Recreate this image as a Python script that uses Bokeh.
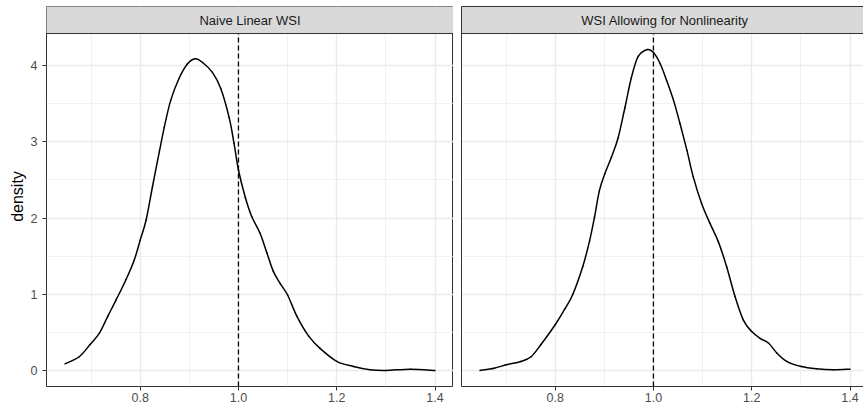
from bokeh.core.properties import value
from bokeh.embed import file_html
from bokeh.layouts import row
from bokeh.models import FixedTicker, LinearAxis, PrintfTickFormatter, Range1d, Title
from bokeh.plotting import figure
from bokeh.resources import INLINE

# ---- data -------------------------------------------------------------
panel_titles = ["Naive Linear WSI", "WSI Allowing for Nonlinearity"]

naive_x = [0.647, 0.676, 0.698, 0.717, 0.734, 0.751, 0.771, 0.788, 0.800, 0.812,
           0.825, 0.839, 0.849, 0.862, 0.879, 0.896, 0.912, 0.927, 0.947, 0.964,
           0.981, 0.991, 1.000, 1.014, 1.027, 1.044, 1.058, 1.071, 1.085, 1.100,
           1.119, 1.143, 1.166, 1.200, 1.234, 1.268, 1.300, 1.350, 1.400]
naive_y = [0.087, 0.18, 0.34, 0.49, 0.71, 0.925, 1.19, 1.45, 1.71, 1.97,
           2.41, 2.87, 3.19, 3.54, 3.83, 4.02, 4.09, 4.04, 3.91, 3.70,
           3.32, 2.98, 2.63, 2.27, 2.02, 1.80, 1.54, 1.30, 1.14, 0.99,
           0.71, 0.45, 0.29, 0.12, 0.052, 0.009, 0.0, 0.017, 0.0]

nonlin_x = [0.647, 0.676, 0.700, 0.730, 0.751, 0.771, 0.800, 0.820, 0.836, 0.856,
            0.870, 0.880, 0.890, 0.901, 0.914, 0.928, 0.942, 0.955, 0.969, 0.988,
            1.000, 1.014, 1.027, 1.041, 1.054, 1.068, 1.081, 1.098, 1.115, 1.132,
            1.149, 1.166, 1.183, 1.200, 1.217, 1.234, 1.251, 1.271, 1.301, 1.332,
            1.366, 1.400]
nonlin_y = [0.0, 0.03, 0.074, 0.118, 0.18, 0.34, 0.60, 0.81, 1.00, 1.36,
            1.70, 2.01, 2.36, 2.58, 2.79, 3.05, 3.45, 3.84, 4.12, 4.21,
            4.17, 4.02, 3.80, 3.54, 3.24, 2.89, 2.54, 2.19, 1.93, 1.69,
            1.36, 0.97, 0.66, 0.51, 0.42, 0.36, 0.23, 0.12, 0.052, 0.022,
            0.009, 0.017]

reference_wsi = 1.0

x_ticks = [0.8, 1.0, 1.2, 1.4]
x_minor = [0.7, 0.9, 1.1, 1.3]
y_ticks = [0, 1, 2, 3, 4]
y_minor = [0.5, 1.5, 2.5, 3.5]
y_title = "density"

# ---- style ------------------------------------------------------------
FONT = "Liberation Sans"
BORDER = "#333333"
GRID = "#EBEBEB"
STRIP_FILL = "#D9D9D9"
TICK_TEXT = "#4D4D4D"

PANEL_W = 407      # full panel width in px
PANEL_H = 353      # panel height below the strip
STRIP_H = 27       # strip height
TOP = 6
LEFT = 46
GAP = 8
HEIGHT = 410
RIGHT_W = 863 - (LEFT + PANEL_W) - GAP   # visible width of the second panel

# shared scales, expanded 5% on each side
x_lo = min(naive_x + nonlin_x)
x_hi = max(naive_x + nonlin_x)
x_pad = 0.05 * (x_hi - x_lo)
x_start, x_end = x_lo - x_pad, x_hi + x_pad
x_per_px = (x_end - x_start) / PANEL_W

y_hi = max(naive_y + nonlin_y)
y_pad = 0.05 * y_hi
y_start, panel_top = -y_pad, y_hi + y_pad
y_per_px = (panel_top - y_start) / PANEL_H
strip_top = panel_top + STRIP_H * y_per_px


def smooth_segments(xs, ys):
    """Cubic Bezier pieces (Catmull-Rom tangents) passing through every point."""
    n = len(xs)
    seg = {k: [] for k in ("x0", "y0", "x1", "y1", "cx0", "cy0", "cx1", "cy1")}
    for i in range(n - 1):
        xa, ya = xs[max(i - 1, 0)], ys[max(i - 1, 0)]
        xb, yb = xs[i], ys[i]
        xc, yc = xs[i + 1], ys[i + 1]
        xd, yd = xs[min(i + 2, n - 1)], ys[min(i + 2, n - 1)]
        seg["x0"].append(xb)
        seg["y0"].append(yb)
        seg["x1"].append(xc)
        seg["y1"].append(yc)
        seg["cx0"].append(xb + (xc - xa) / 6)
        seg["cy0"].append(yb + (yc - ya) / 6)
        seg["cx1"].append(xc - (xd - xb) / 6)
        seg["cy1"].append(yc - (yd - yb) / 6)
    return seg


def style_common(p):
    ax = p.xaxis[0]
    ax.ticker = FixedTicker(ticks=x_ticks, minor_ticks=x_minor)
    ax.formatter = PrintfTickFormatter(format="%.1f")
    ax.major_tick_line_color = BORDER
    ax.major_tick_out = 4
    ax.major_tick_in = 0
    ax.minor_tick_line_color = None
    ax.major_label_text_font = FONT
    ax.major_label_text_font_size = "12.5px"
    ax.major_label_text_color = TICK_TEXT
    ax.major_label_standoff = 2
    p.ygrid.ticker = FixedTicker(ticks=y_ticks, minor_ticks=y_minor)
    for g in (p.xgrid, p.ygrid):
        g.grid_line_color = GRID
        g.grid_line_width = 1.4
        g.minor_grid_line_color = GRID
        g.minor_grid_line_width = 0.7


def make_panel(title, xs, ys, first):
    frame_w = PANEL_W if first else RIGHT_W
    left = LEFT if first else GAP
    p = figure(
        width=left + frame_w, height=HEIGHT,
        x_range=Range1d(x_start, x_start + frame_w * x_per_px),
        y_range=Range1d(y_start, strip_top),
        output_backend="svg", toolbar_location=None,
        min_border_left=left, min_border_right=0,
        min_border_top=TOP, min_border_bottom=HEIGHT - TOP - STRIP_H - PANEL_H,
        background_fill_color="white", border_fill_color="white",
        outline_line_color=BORDER if first else None,
    )
    style_common(p)
    yax = p.yaxis[0]
    yax.minor_tick_line_color = None
    if first:
        yax.ticker = FixedTicker(ticks=y_ticks, minor_ticks=y_minor)
        p.xaxis.axis_line_color = None
        yax.axis_line_color = None
        yax.major_tick_line_color = BORDER
        yax.major_tick_out = 4
        yax.major_tick_in = 0
        yax.major_label_text_font = FONT
        yax.major_label_text_font_size = "12.5px"
        yax.major_label_text_color = TICK_TEXT
        yax.major_label_standoff = 5
        # axis title, centred on the panel area below the strip
        p.add_layout(Title(
            text=y_title, align="center", offset=-(STRIP_H / 2), standoff=3,
            text_font=FONT, text_font_size="16px", text_font_style="normal",
            text_color="black",
        ), "left")
    else:
        # border drawn by axis lines; the panel's right edge runs off the page
        yax.ticker = FixedTicker(ticks=[])
        p.xaxis.axis_line_color = BORDER
        yax.axis_line_color = BORDER
        yax.major_tick_line_color = None
        yax.major_label_standoff = 0
        p.add_layout(LinearAxis(
            ticker=FixedTicker(ticks=[]), axis_line_color=BORDER,
            major_tick_line_color=None, minor_tick_line_color=None,
            major_label_standoff=0,
        ), "above")

    # density curve
    p.bezier(line_color="black", line_width=1.5, line_cap="round",
             **smooth_segments(xs, ys))
    # reference value
    p.segment(x0=[reference_wsi], y0=[y_start], x1=[reference_wsi], y1=[panel_top],
              line_color="black", line_width=1.3, line_dash="5 3")
    # facet strip
    p.quad(left=[x_start - 1], right=[x_end + 1], bottom=[panel_top], top=[strip_top + 1],
           fill_color=STRIP_FILL, line_color=BORDER, line_width=1)
    p.text(x=[(x_start + x_end) / 2], y=[(panel_top + strip_top) / 2], text=[title],
           text_align="center", text_baseline="middle", text_font=value(FONT),
           text_font_size="13px", text_color="#1A1A1A")
    return p


p_left = make_panel(panel_titles[0], naive_x, naive_y, True)
p_right = make_panel(panel_titles[1], nonlin_x, nonlin_y, False)

layout = row(p_left, p_right)
open("out.html", "w").write(file_html(layout, INLINE))
